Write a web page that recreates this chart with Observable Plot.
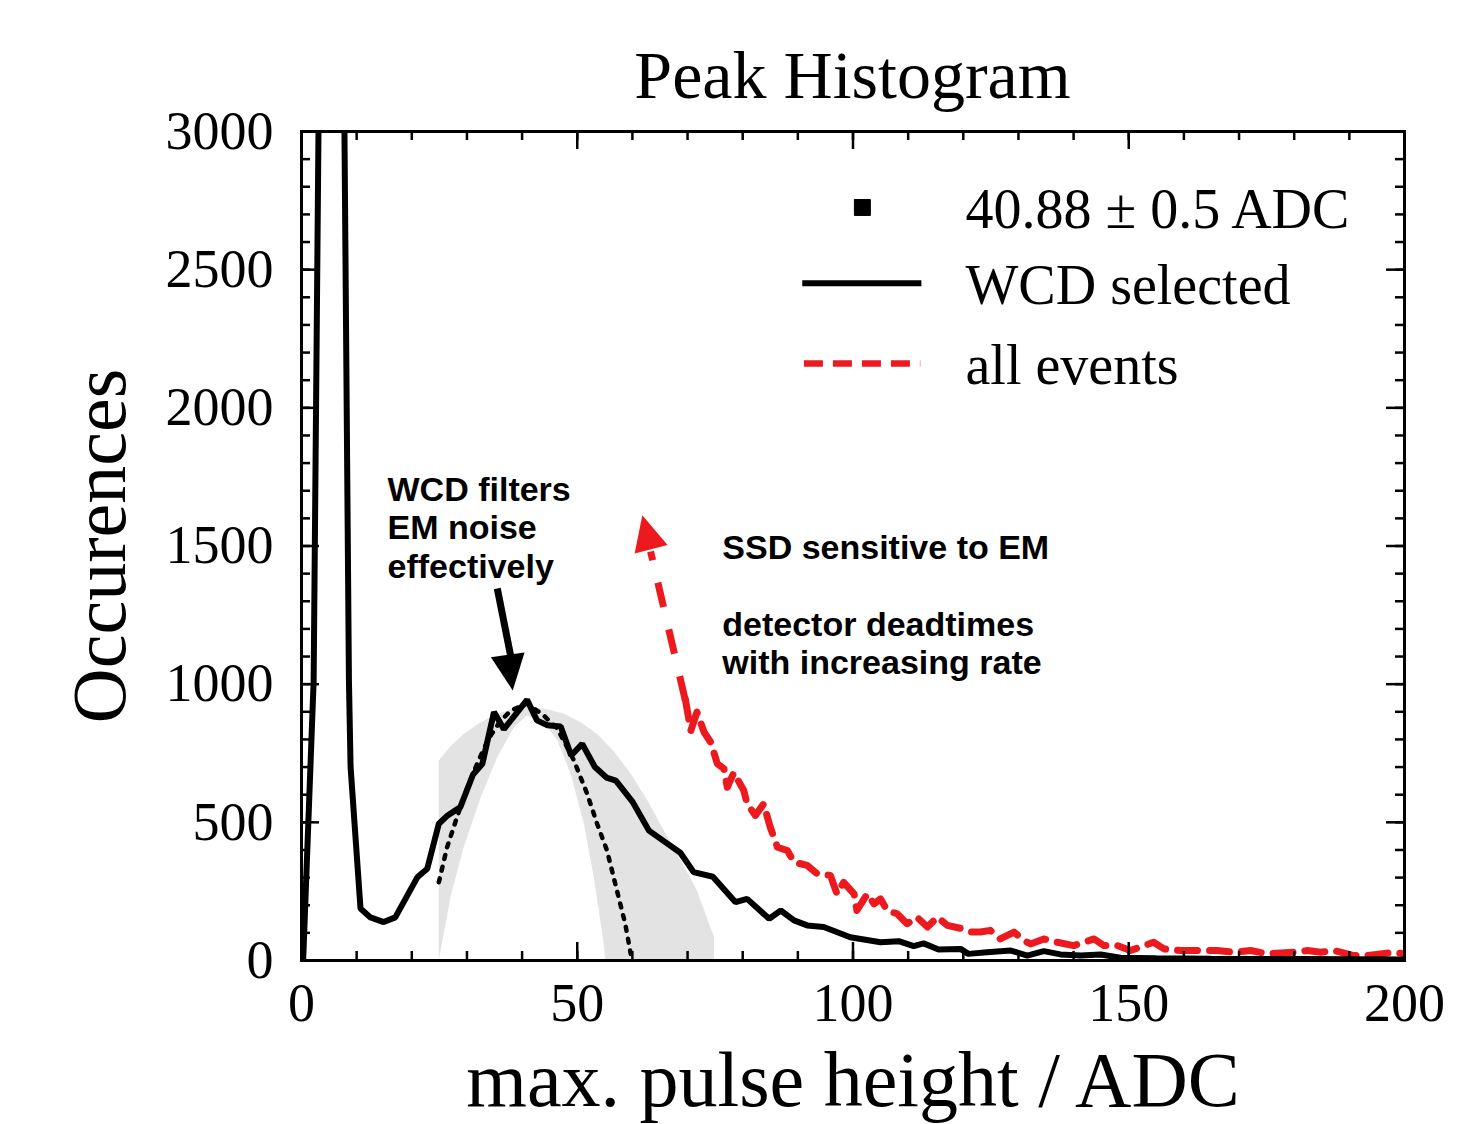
<!DOCTYPE html>
<html><head><meta charset="utf-8">
<script src="https://cdn.jsdelivr.net/npm/d3@7"></script>
<script src="https://cdn.jsdelivr.net/npm/@observablehq/plot@0.6"></script>
<style>
body{margin:0;background:#fff;position:relative;}
#title{position:absolute;top:0;left:0;width:1481px;box-sizing:border-box;padding-left:301px;padding-right:77px;padding-top:41px;text-align:center;font-family:"Liberation Serif",serif;font-size:68px;line-height:68px;color:#000;z-index:2;}
#chart{padding-top:80px;}
</style></head><body>
<div id="title">Peak Histogram</div>
<div id="chart"></div>
<script>
// ---- data ----
const wcdSelected = [[0.3,0],[2.2,1010],[3.5,3950],[7.4,3950],[8.6,1013],[8.9,700],[10.7,188],[12.5,156],[14.9,139],[17.0,156],[21.0,301],[22.8,332],[24.9,495],[26.5,525],[28.8,555],[31.1,673],[32.8,712],[34.9,899],[36.7,837],[40.9,943],[42.7,869],[44.6,851],[47.0,847],[48.9,742],[50.9,784],[53.2,700],[55.3,662],[57.0,651],[60.0,575],[63.0,470],[65.7,432],[68.7,390],[71.1,320],[74.6,303],[78.7,211],[80.8,223],[84.8,151],[86.9,181],[89.3,145],[91.7,127],[94.7,121],[99.5,84],[105.0,66],[108.3,70],[111.0,52],[112.8,62],[115.5,40],[119.5,42],[120.9,24],[124.3,30],[128.6,36],[131.6,18],[134.6,34],[137.6,22],[141.3,18],[144.9,22],[148.5,10],[155,8],[165,6],[180,5],[200,4]];
const allEvents = [[69.6,945],[70.6,832],[71.7,899],[73.0,826],[74.2,790],[75.4,712],[76.6,694],[77.2,627],[78.4,680],[79.5,640],[80.2,615],[80.8,567],[82.3,525],[83.8,567],[85.0,482],[86.3,410],[88.1,398],[89.3,356],[91.7,344],[93.5,314],[95.9,308],[97.1,241],[98.3,283],[100.2,241],[100.7,181],[102.6,241],[103.8,205],[105.0,223],[106.2,181],[108.0,169],[109.8,133],[111.6,157],[113.5,121],[115.3,157],[117.1,127],[119.8,115],[121.3,103],[123.1,103],[124.9,109],[126.7,78],[129.2,103],[131.0,72],[132.2,60],[134.6,78],[137.0,66],[140.0,54],[143.7,78],[145.5,54],[147.9,54],[150.3,36],[154.5,66],[156.4,42],[159.4,36],[161.8,36],[166.0,36],[169.0,30],[172.1,36],[175.1,24],[179.9,30],[182.4,36],[184.8,30],[187.2,36],[190.8,18],[193.2,18],[195.7,24],[198.0,30],[200,24]];
const fitCurve = [[24.9,283],[26.4,410],[28.2,519],[30,620],[32,720],[34,805],[36,865],[38,905],[40.9,930],[43.9,887],[46.4,839],[49.4,724],[51.8,603],[53.6,495],[55.4,398],[57.2,253],[58.7,133],[59.7,24]];
const bandUpper = [[24.9,0],[24.9,724],[27.0,775],[29.4,820],[32.5,862],[35.5,893],[38.2,910],[40.9,917],[44.2,911],[47.6,893],[50.6,862],[53.6,820],[56.7,755],[59.7,676],[62.7,580],[65.7,470],[68.7,365],[71.7,253],[74.8,84],[74.8,0]];
const bandLower = [[24.9,0],[27.0,229],[29.4,410],[32.5,591],[35.5,736],[38.5,844],[40.9,887],[43.9,862],[46.4,796],[48.8,676],[51.2,495],[53.0,301],[54.8,60],[55.1,0]];
const xTicks = [0,50,100,150,200];
const yTicks = [0,500,1000,1500,2000,2500,3000];
const xMinor = d3.range(0,201,10);
const yMinor = d3.range(0,3001,100);
const legendLabels = ["40.88 \u00b1 0.5 ADC","WCD selected","all events"];
const noteWCD = "WCD filters\nEM noise\neffectively";
const noteSSD = "SSD sensitive to EM\n\ndetector deadtimes\nwith increasing rate";
const xLabel = "max. pulse height / ADC";
const yLabel = "Occurences";

// ---- chart ----
const red = "#ec1a1f";
const W = 1481, H = 1044, mL = 301, mR = 77, mT = 51, mB = 164;
const pw = W - mL - mR, ph = H - mT - mB;
const bandPoly = bandUpper.concat(bandLower.slice().reverse());
const P = d => ({x: d[0], y: d[1]});

const chart = Plot.plot({
  width: W, height: H,
  marginLeft: mL, marginRight: mR, marginTop: mT, marginBottom: mB,
  style: {fontFamily: "Liberation Serif", fontSize: "54px", color: "#000", background: "transparent"},
  x: {domain: [0, 200]},
  y: {domain: [0, 3000]},
  marks: [
    Plot.line(bandPoly.map(P), {x: "x", y: "y", fill: "#e3e3e3", stroke: "none", curve: "linear"}),
    Plot.line(fitCurve.map(P), {x: "x", y: "y", stroke: "#000", strokeWidth: 4.5, strokeDasharray: "4,8"}),
    Plot.line(allEvents.map(P), {x: "x", y: "y", stroke: red, strokeWidth: 7, strokeDasharray: "20,12", clip: true}),
    Plot.line(wcdSelected.map(P), {x: "x", y: "y", stroke: "#000", strokeWidth: 6, strokeLinejoin: "miter", clip: true}),
    // annotation arrows
    Plot.link([{x1: 35.5, y1: 1346, x2: 38.05, y2: 1090}], {x1: "x1", y1: "y1", x2: "x2", y2: "y2", stroke: "#000", strokeWidth: 7}),
    Plot.vector([{x: 38.3, y: 977}], {x: "x", y: "y", shape: "spike", r: 17, length: 36, rotate: 172, anchor: "end", fill: "#000", stroke: "none"}),
    Plot.link([{x1: 69.6, y1: 941, x2: 63.3, y2: 1480}], {x1: "x1", y1: "y1", x2: "x2", y2: "y2", stroke: red, strokeWidth: 7, strokeDasharray: "25,23"}),
    Plot.vector([{x: 61.8, y: 1611}], {x: "x", y: "y", shape: "spike", r: 17, length: 35, rotate: -14.5, anchor: "end", fill: red, stroke: "none"}),
    // annotation texts
    Plot.text([noteWCD], {x: 15.6, y: 1762, text: d => d, textAnchor: "start", lineAnchor: "top", lineHeight: 1.13, fontFamily: "Liberation Sans", fontWeight: "bold", fontSize: 34, fill: "#000"}),
    Plot.text([noteSSD], {x: 76.3, y: 1552, text: d => d, textAnchor: "start", lineAnchor: "top", lineHeight: 1.13, fontFamily: "Liberation Sans", fontWeight: "bold", fontSize: 34, fill: "#000"}),
    // legend
    Plot.dot([{x: 101.7, y: 2725}], {x: "x", y: "y", symbol: "square", r: 9, fill: "#000", stroke: "#000", strokeWidth: 1, strokeLinejoin: "round"}),
    Plot.link([{x1: 90.8, x2: 112.4, y: 2451}], {x1: "x1", x2: "x2", y1: "y", y2: "y", stroke: "#000", strokeWidth: 6}),
    Plot.link([{x1: 91.1, x2: 112.2, y: 2160}], {x1: "x1", x2: "x2", y1: "y", y2: "y", stroke: red, strokeWidth: 6.5, strokeDasharray: "19,10"}),
    Plot.text(legendLabels.map((t, i) => ({t, y: [2649, 2377, 2085][i]})), {x: 120.4, y: "y", text: "t", textAnchor: "start", lineAnchor: "bottom", fontSize: 56, fill: "#000"}),
    // ticks (inside)
    Plot.tickY(yMinor, {y: d => d, insetRight: pw - 9, stroke: "#000", strokeWidth: 2.5}),
    Plot.tickY(yTicks, {y: d => d, insetRight: pw - 18, stroke: "#000", strokeWidth: 2.5}),
    Plot.tickY(yMinor, {y: d => d, insetLeft: pw - 9, stroke: "#000", strokeWidth: 2.5}),
    Plot.tickY(yTicks, {y: d => d, insetLeft: pw - 18, stroke: "#000", strokeWidth: 2.5}),
    Plot.tickX(xMinor, {x: d => d, insetTop: ph - 9, stroke: "#000", strokeWidth: 2.5}),
    Plot.tickX(xTicks, {x: d => d, insetTop: ph - 18, stroke: "#000", strokeWidth: 2.5}),
    Plot.tickX(xMinor, {x: d => d, insetBottom: ph - 9, stroke: "#000", strokeWidth: 2.5}),
    Plot.tickX(xTicks, {x: d => d, insetBottom: ph - 18, stroke: "#000", strokeWidth: 2.5}),
    // axes
    Plot.axisX(xTicks, {tickSize: 0, tickPadding: 22, label: null, fontSize: 54, tickFormat: d => String(d)}),
    Plot.axisY(yTicks, {tickSize: 0, tickPadding: 28, label: null, fontSize: 54, tickFormat: d => String(d)}),
    Plot.text([xLabel], {frameAnchor: "bottom", dy: 145, lineAnchor: "bottom", textAnchor: "middle", fontSize: 78, fill: "#000"}),
    Plot.text([yLabel], {frameAnchor: "left", dx: -201, rotate: -90, textAnchor: "middle", fontSize: 76, fill: "#000"}),
    Plot.frame({stroke: "#000", strokeWidth: 3})
  ]
});
document.getElementById("chart").appendChild(chart);
</script></body></html>
